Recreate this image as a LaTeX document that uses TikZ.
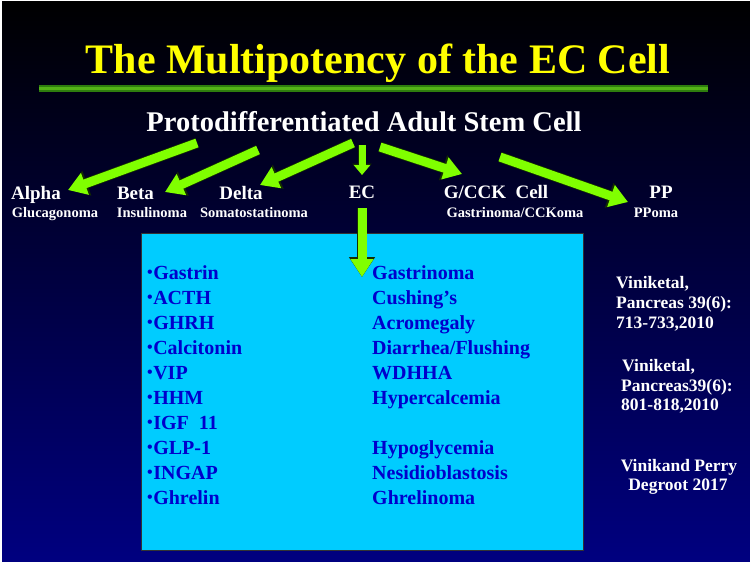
\documentclass[tikz,border=0pt]{standalone}
\usepackage{fontspec}
\setmainfont{Liberation Serif}
\usetikzlibrary{arrows.meta}

\definecolor{navyc}{RGB}{0,0,128}
\definecolor{ttlyellow}{RGB}{255,255,0}
\definecolor{arrowgreen}{RGB}{128,255,0}
\definecolor{arrowedge}{RGB}{20,45,0}
\definecolor{boxcyan}{RGB}{0,204,255}
\definecolor{listblue}{RGB}{0,0,204}
\definecolor{ruledark}{RGB}{46,125,14}
\definecolor{rulelight}{RGB}{84,178,24}

\newcommand{\dotb}{\raisebox{1.8pt}{\fontsize{16}{16}\selectfont •}\hspace{0.5pt}}

\tikzset{
  ttl/.style={text=ttlyellow, font=\bfseries\fontsize{42}{48}\selectfont, anchor=base},
  stem/.style={text=white, font=\bfseries\fontsize{28.5}{33}\selectfont, anchor=base},
  lbl/.style={text=white, font=\bfseries\fontsize{19}{22}\selectfont, anchor=base},
  sublbl/.style={text=white, font=\bfseries\fontsize{14.5}{17}\selectfont, anchor=base},
  item/.style={text=listblue, font=\bfseries\fontsize{20}{24}\selectfont, anchor=base west, inner sep=0pt},
  ref/.style={text=white, font=\bfseries\fontsize{17.5}{21}\selectfont, anchor=base west, inner sep=0pt},
  panel/.style={fill=boxcyan, draw=black!80, line width=1pt, minimum width=442pt, minimum height=317pt},
  bigarr/.style={draw=arrowgreen, line width=9pt, -{Triangle[width=22pt,length=18pt]},
    preaction={draw=arrowedge, line width=10.5pt, -{Triangle[width=25pt,length=20pt]}}},
  smallarr/.style={draw=arrowgreen, line width=7pt, -{Triangle[width=16pt,length=10pt]},
    preaction={draw=arrowedge, line width=8.5pt, -{Triangle[width=19pt,length=11.5pt]}}}
}

\begin{document}
\begin{tikzpicture}[x=1pt, y=-1pt]
\useasboundingbox (0,0) rectangle (750,562);
\fill[white] (0,0) rectangle (750,562);
\shade[top color=black, bottom color=navyc] (2,1) rectangle (750,562);

% heading
\node[ttl] (title) at (378,73) {The Multipotency of the EC Cell};
\draw[ruledark, line width=7pt] (39,88.5) -- (708,88.5);
\draw[rulelight, line width=2.5pt] (39,88.5) -- (708,88.5);
\node[stem] (stem) at (364,131) {Protodifferentiated Adult Stem Cell};

% cell types
\node[lbl] (alpha) at (36,199) {Alpha};
\node[sublbl] (glu) at (55,217) {Glucagonoma};
\node[lbl] (beta) at (135.5,199) {Beta};
\node[sublbl] (ins) at (152,217) {Insulinoma};
\node[lbl] (delta) at (241,199) {Delta};
\node[sublbl] (som) at (254,217) {Somatostatinoma};
\node[lbl] (ec) at (362,198) {EC};
\node[lbl] (gcck) at (496,198) {G/CCK\ \ Cell};
\node[sublbl] (gas) at (515,217) {Gastrinoma/CCKoma};
\node[lbl] (pp) at (661,198) {PP};
\node[sublbl] (ppo) at (656,217) {PPoma};

\node[panel] (panel) at (362,391.5) {};

% arrow ends
\coordinate (alS) at (197,143);
\coordinate (alT) at (68,190);
\coordinate (beS) at (258,150);
\coordinate (beT) at (165,192);
\coordinate (deS) at (353,143);
\coordinate (deT) at (260,185);
\coordinate (ecS) at (362,145);
\coordinate (ecT) at (362,175);
\coordinate (gcS) at (380,147);
\coordinate (gcT) at (462,174);
\coordinate (ppS) at (500,157);
\coordinate (ppT) at (628,202);
\coordinate (bxS) at (362,208);
\coordinate (bxT) at (362,277);

\draw[bigarr] (alS) -- (alT);
\draw[bigarr] (beS) -- (beT);
\draw[bigarr] (deS) -- (deT);
\draw[smallarr] (ecS) -- (ecT);
\draw[bigarr] (gcS) -- (gcT);
\draw[bigarr] (ppS) -- (ppT);
\draw[bigarr] (bxS) -- (bxT);

% hormones
\node[item] (h1) at (147,279.5) {\dotb Gastrin};
\node[item] (h2) at (147,304.5) {\dotb ACTH};
\node[item] (h3) at (147,329.5) {\dotb GHRH};
\node[item] (h4) at (147,354.5) {\dotb Calcitonin};
\node[item] (h5) at (147,379.5) {\dotb VIP};
\node[item] (h6) at (147,404.5) {\dotb HHM};
\node[item] (h7) at (147,429.5) {\dotb IGF~~11};
\node[item] (h8) at (147,454.5) {\dotb GLP-1};
\node[item] (h9) at (147,479.5) {\dotb INGAP};
\node[item] (h10) at (147,504.5) {\dotb Ghrelin};

% syndromes
\node[item] (s1) at (372,279.5) {Gastrinoma};
\node[item] (s2) at (372,304.5) {Cushing’s};
\node[item] (s3) at (372,329.5) {Acromegaly};
\node[item] (s4) at (372,354.5) {Diarrhea/Flushing};
\node[item] (s5) at (372,379.5) {WDHHA};
\node[item] (s6) at (372,404.5) {Hypercalcemia};
\node[item] (s8) at (372,454.5) {Hypoglycemia};
\node[item] (s9) at (372,479.5) {Nesidioblastosis};
\node[item] (s10) at (372,504.5) {Ghrelinoma};

% references
\node[ref] (r1a) at (616,288) {Viniketal,};
\node[ref] (r1b) at (616,308) {Pancreas 39(6):};
\node[ref] (r1c) at (616,328) {713-733,2010};
\node[ref] (r2a) at (622,371) {Viniketal,};
\node[ref] (r2b) at (621,391) {Pancreas39(6):};
\node[ref] (r2c) at (621,410) {801-818,2010};
\node[ref, anchor=base] (r3a) at (679,471) {Vinikand Perry};
\node[ref, anchor=base] (r3b) at (678,490) {Degroot 2017};
\end{tikzpicture}
\end{document}
